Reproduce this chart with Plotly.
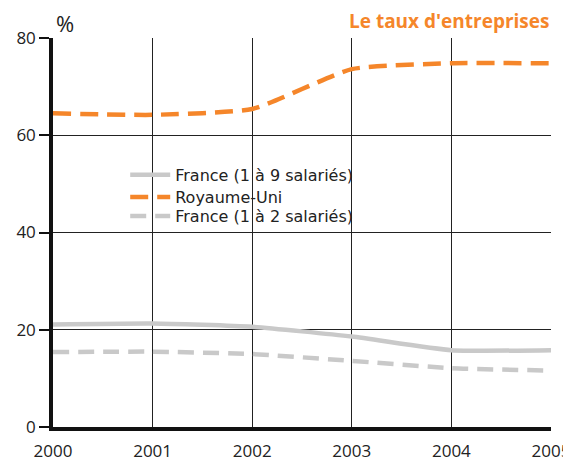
import plotly.graph_objects as go

years = [2000, 2001, 2002, 2003, 2004, 2005]
france_1_9 = [21.1, 21.3, 20.6, 18.6, 15.8, 15.8]
royaume_uni = [64.5, 64.2, 65.4, 73.6, 74.8, 74.8]
france_1_2 = [15.4, 15.5, 15.0, 13.6, 12.1, 11.6]
y_ticks = [0, 20, 40, 60, 80]

ORANGE = "#F5862A"
GREY = "#C9C9C9"
TXT = "#222222"
FONT = "Open Sans, Noto Sans, sans-serif"
LFONT = "DejaVu Sans, sans-serif"

fig = go.Figure()
fig.add_trace(go.Scatter(x=years, y=france_1_9, name="France (1 à 9 salariés)", mode="lines",
                         legend="legend",
                         line=dict(color=GREY, width=4.5, shape="spline", smoothing=0.5)))
fig.add_trace(go.Scatter(x=years, y=royaume_uni, name="Royaume-Uni", mode="lines",
                         legend="legend2",
                         line=dict(color=ORANGE, width=4.5, dash="18px,9px", shape="spline", smoothing=0.5)))
fig.add_trace(go.Scatter(x=years, y=france_1_2, name="France (1 à 2 salariés)", mode="lines",
                         legend="legend3",
                         line=dict(color=GREY, width=4.5, dash="16px,9px", shape="spline", smoothing=0.5)))

leg_common = dict(xanchor="left", yanchor="middle", font=dict(size=16, color=TXT, family=LFONT),
                  bgcolor="rgba(255,255,255,0)", itemwidth=40)

fig.update_layout(
    width=563, height=454,
    margin=dict(l=45, r=20, t=30, b=35, autoexpand=False),
    paper_bgcolor="white", plot_bgcolor="white",
    font=dict(family=FONT, size=16, color=TXT),
    showlegend=True,
    legend=dict(x=0.145, y=0.648, **leg_common),
    legend2=dict(x=0.145, y=0.591, **leg_common),
    legend3=dict(x=0.145, y=0.542, **leg_common),
    annotations=[
        dict(text="%", xref="paper", yref="paper", x=0.024, y=1.0, xanchor="center", yanchor="bottom",
             yshift=-2, showarrow=False, font=dict(size=22, color=TXT, family=FONT)),
        dict(text="<b>Le taux d'entreprises</b>", xref="paper", yref="paper", x=1.0, y=1.0,
             xanchor="right", yanchor="bottom", yshift=2, showarrow=False,
             font=dict(size=19, color=ORANGE, family=FONT)),
    ],
)
fig.update_xaxes(range=[2000, 2005], tickvals=years, ticktext=[str(y) for y in years],
                 showgrid=True, gridcolor="#222222", gridwidth=1.2,
                 showline=True, linecolor="#111111", linewidth=3.5,
                 ticks="", ticklabelstandoff=6, zeroline=False, automargin=False,
                 ticklabeloverflow="allow",
                 tickfont=dict(size=17, family=FONT, color=TXT))
fig.update_yaxes(range=[0, 80], tickvals=y_ticks,
                 showgrid=True, gridcolor="#222222", gridwidth=1.2,
                 showline=True, linecolor="#111111", linewidth=3.5,
                 ticks="outside", ticklen=10, tickwidth=2, tickcolor="#111111",
                 zeroline=False, automargin=False,
                 tickfont=dict(size=17, family=FONT, color=TXT))

fig.write_html("out.html")
